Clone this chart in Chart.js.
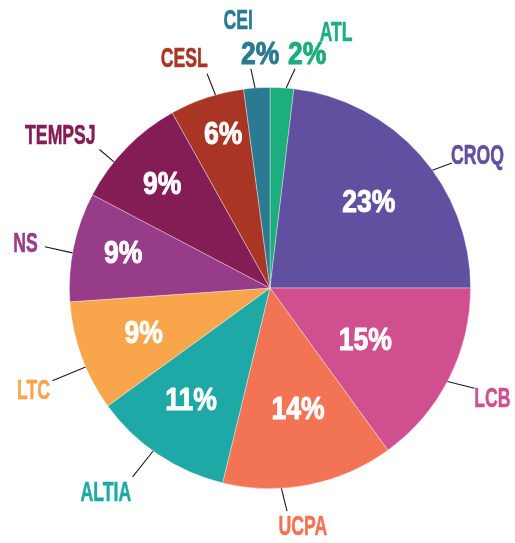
<!DOCTYPE html>
<html>
<head>
<meta charset="utf-8">
<script src="https://cdn.jsdelivr.net/npm/chart.js@4/dist/chart.umd.min.js"></script>
<style>
  html, body { margin: 0; padding: 0; background: #ffffff; }
  #wrap { width: 515px; height: 543px; position: relative; }
</style>
</head>
<body>
<div id="wrap"><canvas id="c" width="515" height="543"></canvas></div>
<script>
// ---- data ----
const categories = ['ATL', 'CROQ', 'LCB', 'UCPA', 'ALTIA', 'LTC', 'NS', 'TEMPSJ', 'CESL', 'CEI'];
const shares = [1.9, 23.1, 15.0, 13.8, 11.2, 8.9, 8.8, 9.2, 6.0, 2.1];

// ---- style ----
const colors = ['#1dae7e', '#614fa0', '#d0508f', '#f37455', '#1ea8a6', '#f8a54b', '#973c88', '#841d56', '#a93524', '#2a7b91'];
// label placement relative to each arc's mid angle: [angle offset deg, radius factor]
const nameLayout = [[11.1, 1.315], [9.0, 1.228], [-0.7, 1.237], [3.3, 1.20], [4.9, 1.307], [-3.3, 1.284], [-1.5, 1.239], [-8.2, 1.293], [-2.1, 1.222], [-3.0, 1.343]];
const pctLayout  = [[5.6, 1.179], [0.6, 0.652], [1.6, 0.541], [-1.9, 0.618], [1.4, 0.682], [0.4, 0.668], [1.5, 0.752], [-0.4, 0.746], [1.4, 0.801], [1.4, 1.165]];
const pctOutside = [true, false, false, false, false, false, false, false, false, true];
const leaderLayout = [[1.2, 1.0, 3.1, 1.10], [5.6, 1.0, 7.1, 1.10], [0.8, 1.0, -0.9, 1.135], [7.9, 1.0, 6.8, 1.116], [1.8, 1.0, 2.2, 1.164], [-3.2, 1.0, -3.1, 1.179], [-1.8, 1.0, -1.5, 1.141], [-5.3, 1.0, -5.2, 1.095], [2.6, 1.0, 2.0, 1.113], [-0.5, 1.0, -1.2, 1.097]];

const FONT = "'Liberation Sans', Arial, sans-serif";

function drawText(ctx, text, x, y, font, color, sx, thick) {
  ctx.save();
  ctx.font = font;
  ctx.fillStyle = color;
  ctx.strokeStyle = color;
  ctx.lineJoin = 'round';
  ctx.lineWidth = thick;
  ctx.textAlign = 'center';
  ctx.textBaseline = 'middle';
  ctx.translate(x, y);
  ctx.scale(sx, 1);
  ctx.fillText(text, 0, 0);
  if (thick > 0) ctx.strokeText(text, 0, 0);
  ctx.restore();
}

const labelPlugin = {
  id: 'pieLabels',
  afterDatasetsDraw(chart) {
    const ctx = chart.ctx;
    const meta = chart.getDatasetMeta(0);
    const deg = Math.PI / 180;
    meta.data.forEach((arc, i) => {
      const p = arc.getProps(['x', 'y', 'startAngle', 'endAngle', 'outerRadius'], true);
      const mid = (p.startAngle + p.endAngle) / 2;
      const R = p.outerRadius;
      const pt = (dDeg, f) => [p.x + Math.cos(mid + dDeg * deg) * R * f, p.y + Math.sin(mid + dDeg * deg) * R * f];

      // leader line
      const L = leaderLayout[i];
      const a = pt(L[0], L[1]);
      const b = pt(L[2], L[3]);
      ctx.save();
      ctx.strokeStyle = '#1a1a1a';
      ctx.lineWidth = 1.1;
      ctx.beginPath();
      ctx.moveTo(a[0], a[1]);
      ctx.lineTo(b[0], b[1]);
      ctx.stroke();
      ctx.restore();

      // category name
      const n = pt(nameLayout[i][0], nameLayout[i][1]);
      drawText(ctx, categories[i], n[0], n[1] + 1, 'bold 28px ' + FONT, colors[i], 0.63, 0.6);

      // percent
      const pct = Math.round(shares[i]) + '%';
      const q = pt(pctLayout[i][0], pctLayout[i][1]);
      drawText(ctx, pct, q[0], q[1] + 1, 'bold 32px ' + FONT, pctOutside[i] ? colors[i] : '#ffffff', 0.83, 1.0);
    });
  }
};

new Chart(document.getElementById('c'), {
  type: 'pie',
  data: {
    labels: categories,
    datasets: [{
      data: shares,
      backgroundColor: colors,
      borderColor: 'rgba(255,255,255,0.45)',
      borderWidth: 0.8
    }]
  },
  options: {
    responsive: false,
    animation: false,
    layout: { padding: { left: 69, right: 44, top: 87, bottom: 54 } },
    plugins: {
      legend: { display: false },
      tooltip: { enabled: false },
      title: { display: false }
    }
  },
  plugins: [labelPlugin]
});
</script>
</body>
</html>
